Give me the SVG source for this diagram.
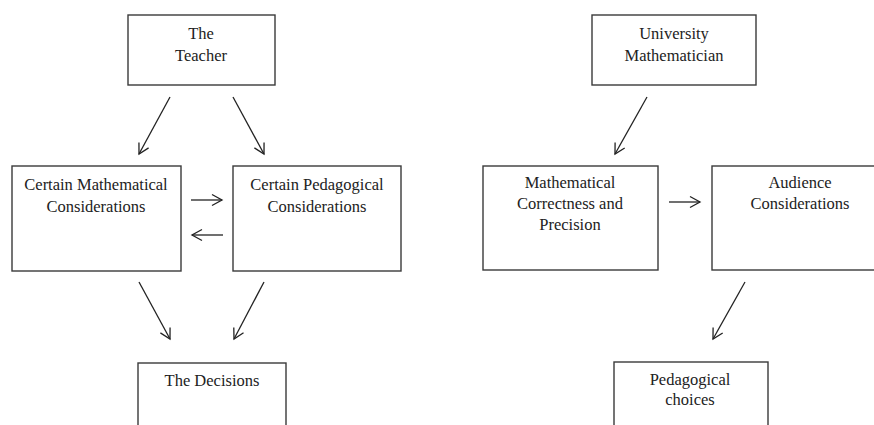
<svg xmlns="http://www.w3.org/2000/svg" width="874" height="425" viewBox="0 0 874 425">
<style>
.box{fill:#fff;stroke:#3a3a3a;stroke-width:1.4}
.t{font-family:"Liberation Serif","Times New Roman",serif;font-size:16.5px;fill:#222;text-anchor:middle}
.c{stroke:#222;stroke-width:1.3;fill:none;marker-end:url(#ah)}
</style>
<defs>
<marker id="ah" markerUnits="userSpaceOnUse" markerWidth="14" markerHeight="14" viewBox="-1 -7 14 14" refX="10" refY="0" orient="auto">
<path d="M0,-5.5 L10,0 L0,5.5" fill="none" stroke="#222" stroke-width="1.3"/>
</marker>
</defs>
<rect width="874" height="425" fill="#fff"/>
<g id="teacher"><rect class="box" x="128" y="15" width="147" height="70"/><text class="t" x="201" y="39">The</text><text class="t" x="201" y="61">Teacher</text></g>
<g id="math-considerations"><rect class="box" x="12" y="166" width="169" height="105"/><text class="t" x="96" y="190">Certain Mathematical</text><text class="t" x="96" y="212">Considerations</text></g>
<g id="ped-considerations"><rect class="box" x="233" y="166" width="168" height="105"/><text class="t" x="317" y="190">Certain Pedagogical</text><text class="t" x="317" y="212">Considerations</text></g>
<g id="decisions"><rect class="box" x="138" y="363" width="148" height="80"/><text class="t" x="212" y="386">The Decisions</text></g>
<g id="university"><rect class="box" x="592" y="15" width="164" height="70"/><text class="t" x="674" y="39">University</text><text class="t" x="674" y="61">Mathematician</text></g>
<g id="correctness"><rect class="box" x="483" y="166" width="175" height="104"/><text class="t" x="570" y="188">Mathematical</text><text class="t" x="570" y="209">Correctness and</text><text class="t" x="570" y="230">Precision</text></g>
<g id="audience"><rect class="box" x="712" y="166" width="176" height="104"/><text class="t" x="800" y="188">Audience</text><text class="t" x="800" y="209">Considerations</text></g>
<g id="choices"><rect class="box" x="614" y="362" width="154" height="80"/><text class="t" x="690" y="385">Pedagogical</text><text class="t" x="690" y="405">choices</text></g>
<g id="connectors">
<line class="c" x1="170" y1="97" x2="139" y2="154"/>
<line class="c" x1="233" y1="97" x2="264" y2="154"/>
<line class="c" x1="191" y1="200" x2="222" y2="200"/>
<line class="c" x1="223" y1="235" x2="192" y2="235"/>
<line class="c" x1="139" y1="282" x2="170" y2="339"/>
<line class="c" x1="264" y1="282" x2="234" y2="339"/>
<line class="c" x1="647" y1="97" x2="615" y2="154"/>
<line class="c" x1="669" y1="202" x2="700" y2="202"/>
<line class="c" x1="745" y1="282" x2="713" y2="339"/>
</g>
</svg>
